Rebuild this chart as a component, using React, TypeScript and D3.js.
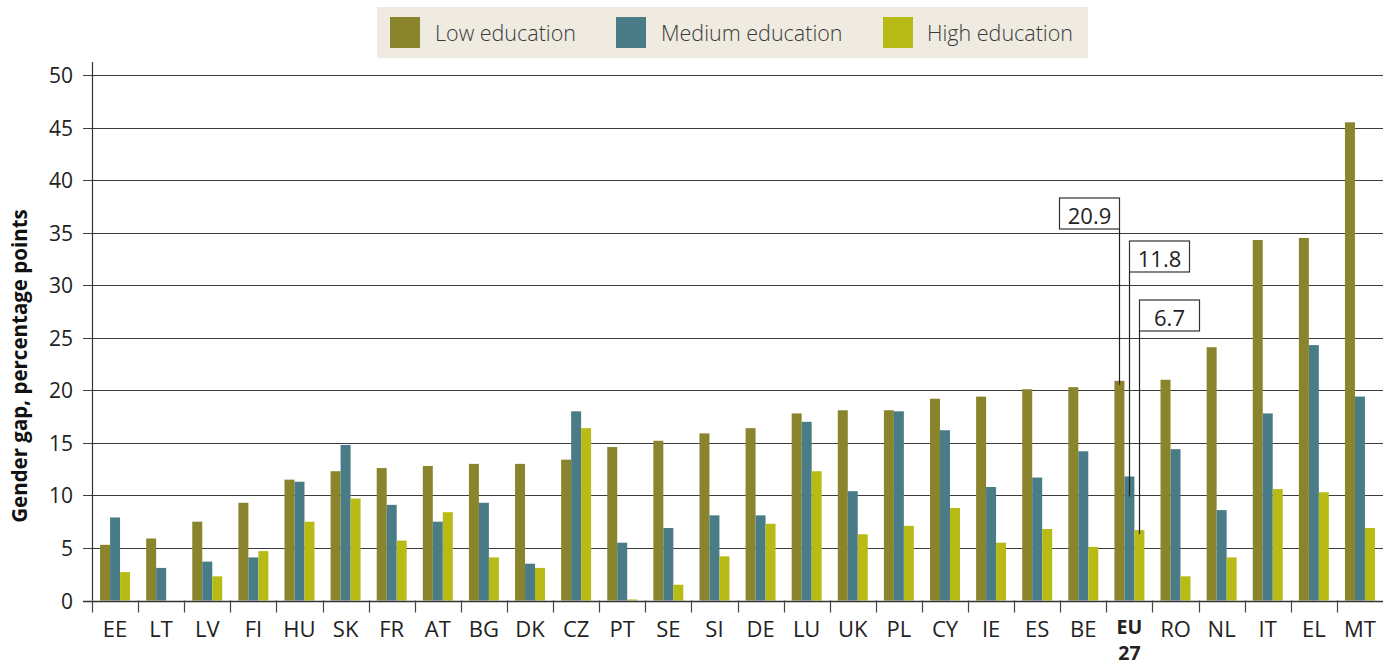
import React from "react";
import * as d3 from "d3";

const categories = ["EE","LT","LV","FI","HU","SK","FR","AT","BG","DK","CZ","PT","SE","SI","DE","LU","UK","PL","CY","IE","ES","BE","EU27","RO","NL","IT","EL","MT"];
const lowEdu = [5.3,5.9,7.5,9.3,11.5,12.3,12.6,12.8,13.0,13.0,13.4,14.6,15.2,15.9,16.4,17.8,18.1,18.1,19.2,19.4,20.1,20.3,20.9,21.0,24.1,34.3,34.5,45.5];
const mediumEdu = [7.9,3.1,3.7,4.1,11.3,14.8,9.1,7.5,9.3,3.5,18.0,5.5,6.9,8.1,8.1,17.0,10.4,18.0,16.2,10.8,11.7,14.2,11.8,14.4,8.6,17.8,24.3,19.4];
const highEdu = [2.7,0,2.3,4.7,7.5,9.7,5.7,8.4,4.1,3.1,16.4,0.1,1.5,4.2,7.3,12.3,6.3,7.1,8.8,5.5,6.8,5.1,6.7,2.3,4.1,10.6,10.3,6.9];
const seriesNames = ["Low education","Medium education","High education"];
const yTicks = [0,5,10,15,20,25,30,35,40,45,50];

const colors = ["#8a852c","#4a7c87","#b8bb16"];
const FONT = "'Open Sans', 'Noto Sans', sans-serif";

export default function App() {
  const W = 1383, H = 665;
  const left = 92, right = 1383, top = 75, bottom = 600.5;
  const x = d3.scaleBand<string>().domain(categories).range([left, right]).paddingInner(0).paddingOuter(0);
  const bw = x.bandwidth();
  const xs = d3.scaleBand<string>().domain(seriesNames).range([bw * 0.175, bw * 0.825]).padding(0);
  const y = d3.scaleLinear().domain([0, 50]).range([bottom, top]);
  const series = [lowEdu, mediumEdu, highEdu];

  const euIdx = categories.indexOf("EU27");
  const eu = categories[euIdx];
  const cx = (s: number) => (x(eu) as number) + (xs(seriesNames[s]) as number) + xs.bandwidth() / 2;

  const annotations = [
    { s: 0, boxTop: 198, side: "left", extra: 4 },
    { s: 1, boxTop: 241, side: "right", extra: 20 },
    { s: 2, boxTop: 300, side: "right", extra: 4 },
  ];
  const boxW = 60, boxH = 31;

  const legendItems = [
    { sx: 390, tx: 435 },
    { sx: 616, tx: 661 },
    { sx: 883, tx: 927 },
  ];

  return (
    <svg width={W} height={H} style={{ position: "absolute", left: 0, top: 0, background: "#fff" }} fontFamily={FONT}>
      {/* legend */}
      <rect x={377} y={7} width={711} height={51} fill="#efebe1" />
      {legendItems.map((l, i) => (
        <g key={i}>
          <rect x={l.sx} y={17} width={30} height={31} fill={colors[i]} />
          <text x={l.tx} y={32} dominantBaseline="central" fontSize={21.5} fill="#3a3a3a" fontWeight={300}>{seriesNames[i]}</text>
        </g>
      ))}

      {/* gridlines & y ticks */}
      {yTicks.map((t) => (
        <g key={t}>
          <line x1={83} x2={right} y1={Math.round(y(t)) + 0.5} y2={Math.round(y(t)) + 0.5} stroke="#3c3c3c" strokeWidth={1.2} />
          <text x={73} y={y(t)} textAnchor="end" dominantBaseline="central" fontSize={21} fill="#222">{t}</text>
        </g>
      ))}

      {/* y axis */}
      <line x1={92.5} x2={92.5} y1={62} y2={bottom} stroke="#333" strokeWidth={1.2} />
      <text transform={`translate(19,366) rotate(-90)`} textAnchor="middle" dominantBaseline="central" fontSize={20.5} fontWeight={700} fill="#111">Gender gap, percentage points</text>

      {/* bars */}
      {categories.map((c, i) => (
        <g key={c}>
          {series.map((s, j) => (
            <rect key={j} x={(x(c) as number) + (xs(seriesNames[j]) as number)} y={y(s[i])} width={xs.bandwidth()} height={y(0) - y(s[i])} fill={colors[j]} />
          ))}
        </g>
      ))}

      {/* x axis */}
      <line x1={83} x2={right} y1={Math.round(bottom) + 0.5} y2={Math.round(bottom) + 0.5} stroke="#333" strokeWidth={1.4} />
      {categories.map((c) => (
        <line key={"t" + c} x1={Math.round(x(c) as number) + 0.5} x2={Math.round(x(c) as number) + 0.5} y1={bottom} y2={bottom + 12} stroke="#444" strokeWidth={1.2} />
      ))}
      {categories.map((c) => {
        const mx = (x(c) as number) + bw / 2;
        if (c === "EU27") {
          return (
            <g key={"l" + c}>
              <text x={mx} y={626} textAnchor="middle" dominantBaseline="central" fontSize={19.5} fontWeight={700} fill="#222">EU</text>
              <text x={mx} y={652} textAnchor="middle" dominantBaseline="central" fontSize={19.5} fontWeight={700} fill="#222">27</text>
            </g>
          );
        }
        return (
          <text key={"l" + c} x={mx} y={628} textAnchor="middle" dominantBaseline="central" fontSize={22} fill="#222">{c}</text>
        );
      })}

      {/* EU27 annotations */}
      {annotations.map((a) => {
        const lx = Math.round(cx(a.s)) + 0.5;
        const v = series[a.s][euIdx];
        const bx = a.side === "left" ? lx - boxW : lx;
        return (
          <g key={a.s}>
            <line x1={lx} x2={lx} y1={a.boxTop + boxH} y2={y(v) + a.extra} stroke="#222" strokeWidth={1.2} />
            <rect x={bx} y={a.boxTop} width={boxW} height={boxH} fill="#fff" stroke="#333" strokeWidth={1.2} />
            <text x={bx + boxW / 2} y={a.boxTop + boxH / 2 + 1} textAnchor="middle" dominantBaseline="central" fontSize={22} fill="#222">{v.toFixed(1)}</text>
          </g>
        );
      })}
    </svg>
  );
}
